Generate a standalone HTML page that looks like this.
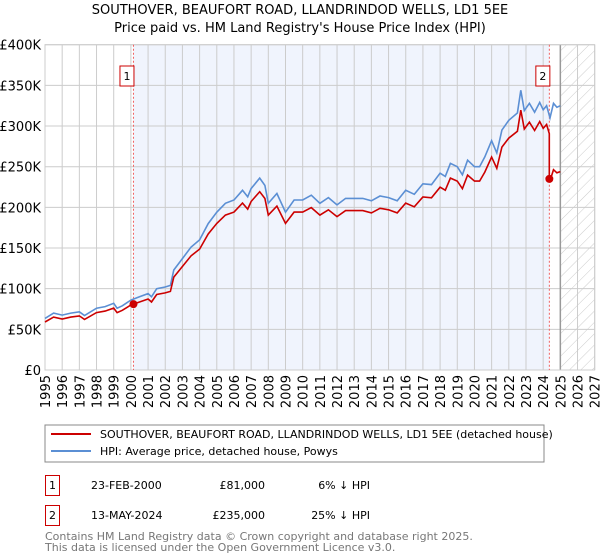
<!DOCTYPE html>
<html><head><meta charset="utf-8"><style>
body{margin:0;background:#fff;width:600px;height:560px;overflow:hidden;font-family:"Liberation Sans","DejaVu Sans",sans-serif;}
svg{display:block}
</style></head><body>
<svg id="chart" width="600" height="560" font-family="DejaVu Sans, Liberation Sans, sans-serif">
<text x="300" y="14" text-anchor="middle" font-size="13">SOUTHOVER, BEAUFORT ROAD, LLANDRINDOD WELLS, LD1 5EE</text>
<text x="300" y="32" text-anchor="middle" font-size="13">Price paid vs. HM Land Registry's House Price Index (HPI)</text>
<g id="plot"></g>
<g>
<rect x="45" y="425" width="499" height="37" fill="#fff" stroke="#888"/>
<line x1="51" y1="434" x2="91" y2="434" stroke="#cc0000" stroke-width="2"/>
<text x="100" y="438" font-size="11">SOUTHOVER, BEAUFORT ROAD, LLANDRINDOD WELLS, LD1 5EE (detached house)</text>
<line x1="51" y1="451" x2="91" y2="451" stroke="#5b8fd4" stroke-width="2"/>
<text x="100" y="455" font-size="11">HPI: Average price, detached house, Powys</text>
</g>
<g font-size="11">
<rect x="45.5" y="475.5" width="14" height="20" fill="#fff" stroke="#cc0000"/>
<text x="52.5" y="489" text-anchor="middle">1</text>
<text x="91" y="489">23-FEB-2000</text>
<text x="265" y="489" text-anchor="end">£81,000</text>
<text x="370" y="489" text-anchor="end">6% ↓ HPI</text>
<rect x="45.5" y="505.5" width="14" height="20" fill="#fff" stroke="#cc0000"/>
<text x="52.5" y="519" text-anchor="middle">2</text>
<text x="91" y="519">13-MAY-2024</text>
<text x="265" y="519" text-anchor="end">£235,000</text>
<text x="370" y="519" text-anchor="end">25% ↓ HPI</text>
</g>
<text x="45" y="540" font-size="11" fill="#777">Contains HM Land Registry data © Crown copyright and database right 2025.</text>
<text x="45" y="551" font-size="11" fill="#777">This data is licensed under the Open Government Licence v3.0.</text>
</svg>
<script>
const hpiYears=[1995,1995.5,1996,1996.5,1997,1997.3,1998,1998.5,1999,1999.2,1999.5,2000,2000.5,2001,2001.2,2001.5,2002,2002.3,2002.5,2003,2003.5,2004,2004.5,2005,2005.5,2006,2006.5,2006.8,2007,2007.5,2007.8,2008,2008.5,2009,2009.5,2010,2010.5,2011,2011.5,2012,2012.5,2013.5,2014,2014.5,2015,2015.5,2016,2016.5,2017,2017.5,2018,2018.3,2018.6,2019,2019.3,2019.6,2020,2020.3,2020.6,2021,2021.3,2021.6,2022,2022.5,2022.7,2022.9,2023.2,2023.5,2023.8,2024,2024.2,2024.4,2024.6,2024.8,2025];
const hpiValues=[63500,70000,67500,70000,71600,67000,76000,78000,82000,76000,79000,86000,90000,94000,90000,100000,102000,104000,123000,137000,151000,160000,180000,194000,205000,209000,221000,213000,223000,236000,227000,205000,217000,194000,209000,209000,215000,205000,212000,203000,211000,211000,208000,214000,212000,208000,221000,216000,229000,228000,242000,238000,254000,250000,240000,258000,250000,250000,262000,282000,267000,295000,307000,316000,344000,319000,328000,317000,329000,320000,325000,310000,328000,323000,325000];
const saleYears=[2000.15,2024.36];
const salePrices=[81000,235000];
const yTicks=[0,50000,100000,150000,200000,250000,300000,350000,400000];
const yTickLabels=["£0","£50K","£100K","£150K","£200K","£250K","£300K","£350K","£400K"];
const xTicks=[1995,1996,1997,1998,1999,2000,2001,2002,2003,2004,2005,2006,2007,2008,2009,2010,2011,2012,2013,2014,2015,2016,2017,2018,2019,2020,2021,2022,2023,2024,2025,2026,2027];

const L=45,R=594.7,T=44.7,B=370,ns="http://www.w3.org/2000/svg";
const xs=y=>L+(y-1995)/(2027-1995)*(R-L);
const ys=v=>B-v/400000*(B-T);
const g=document.getElementById('plot');
function mk(tag,attrs,parent){const e=document.createElementNS(ns,tag);for(const k in attrs)e.setAttribute(k,attrs[k]);(parent||g).appendChild(e);return e;}
function hpiAt(t){for(let i=0;i<hpiYears.length-1;i++){if(t>=hpiYears[i]&&t<=hpiYears[i+1]){const f=(t-hpiYears[i])/(hpiYears[i+1]-hpiYears[i]);return hpiValues[i]+f*(hpiValues[i+1]-hpiValues[i]);}}return hpiValues[hpiValues.length-1];}

// shading
let e=mk('rect',{x:xs(saleYears[0]),y:T,width:xs(saleYears[1])-xs(saleYears[0]),height:B-T,fill:'#f0f4fd'});


// hatch
const defs=mk('defs',{});
const pat=mk('pattern',{id:'hatch',width:8,height:8,patternUnits:'userSpaceOnUse',patternTransform:'rotate(45)'},defs);
mk('line',{x1:0,y1:0,x2:0,y2:8,stroke:'#ccc','stroke-width':1},pat);
e=mk('rect',{x:xs(2025),y:T,width:R-xs(2025),height:B-T,fill:'url(#hatch)'});


// grid
yTicks.forEach((v,i)=>{
 let l=mk('line',{x1:L,x2:R,y1:ys(v),y2:ys(v),stroke:'#ccc'});
 
 
 let t=mk('text',{x:L-4,y:ys(v)+5,'text-anchor':'end','font-size':13});
 
 
 t.textContent=yTickLabels[i];
});
xTicks.forEach(y=>{
 let l=mk('line',{x1:xs(y),x2:xs(y),y1:T,y2:B,stroke:'#ccc'});
 
 
 let t=mk('text',{x:0,y:0,'text-anchor':'end','font-size':13,transform:`translate(${xs(y)+5},${B+5}) rotate(-90)`});
 
 
 t.textContent=y;
});
e=mk('line',{x1:xs(2025),x2:xs(2025),y1:T,y2:B,stroke:'#999','stroke-width':1.5});


e=mk('rect',{x:L,y:T,width:R-L,height:B-T,fill:'none',stroke:'#ccc'});


// sale vlines
saleYears.forEach((s,i)=>{
 let l=mk('line',{x1:xs(s),x2:xs(s),y1:T,y2:B,stroke:'#f06060','stroke-dasharray':'2,2'});
 
 
});
// HPI line
let d=hpiYears.map((y,i)=>(i?'L':'M')+xs(y).toFixed(1)+','+ys(hpiValues[i]).toFixed(1)).join('');
e=mk('path',{d:d,fill:'none',stroke:'#5b8fd4','stroke-width':1.6});


// property line (indexed by HPI from sale prices)
const r1=salePrices[0]/hpiAt(saleYears[0]),r2=salePrices[1]/hpiAt(saleYears[1]);
let pts=[];
hpiYears.forEach((y,i)=>{if(y<saleYears[1])pts.push([y,hpiValues[i]*r1]);});
pts.push([saleYears[1],hpiAt(saleYears[1])*r1]);
pts.push([saleYears[1],salePrices[1]]);
hpiYears.forEach((y,i)=>{if(y>saleYears[1])pts.push([y,hpiValues[i]*r2]);});
d=pts.map((p,i)=>(i?'L':'M')+xs(p[0]).toFixed(1)+','+ys(p[1]).toFixed(1)).join('');
e=mk('path',{d:d,fill:'none',stroke:'#cc0000','stroke-width':1.6});


saleYears.forEach((s,i)=>{
 let c=mk('circle',{cx:xs(s),cy:ys(salePrices[i]),r:4,fill:'#cc0000'});
 
 
 let b=mk('rect',{x:xs(s)-13.5,y:66,width:14,height:20,fill:'#fff',stroke:'#cc0000'});
 
 
 let t=mk('text',{x:xs(s)-6.5,y:80,'text-anchor':'middle','font-size':11});
 
 
 t.textContent=String(i+1);
});
</script>
</body></html>
